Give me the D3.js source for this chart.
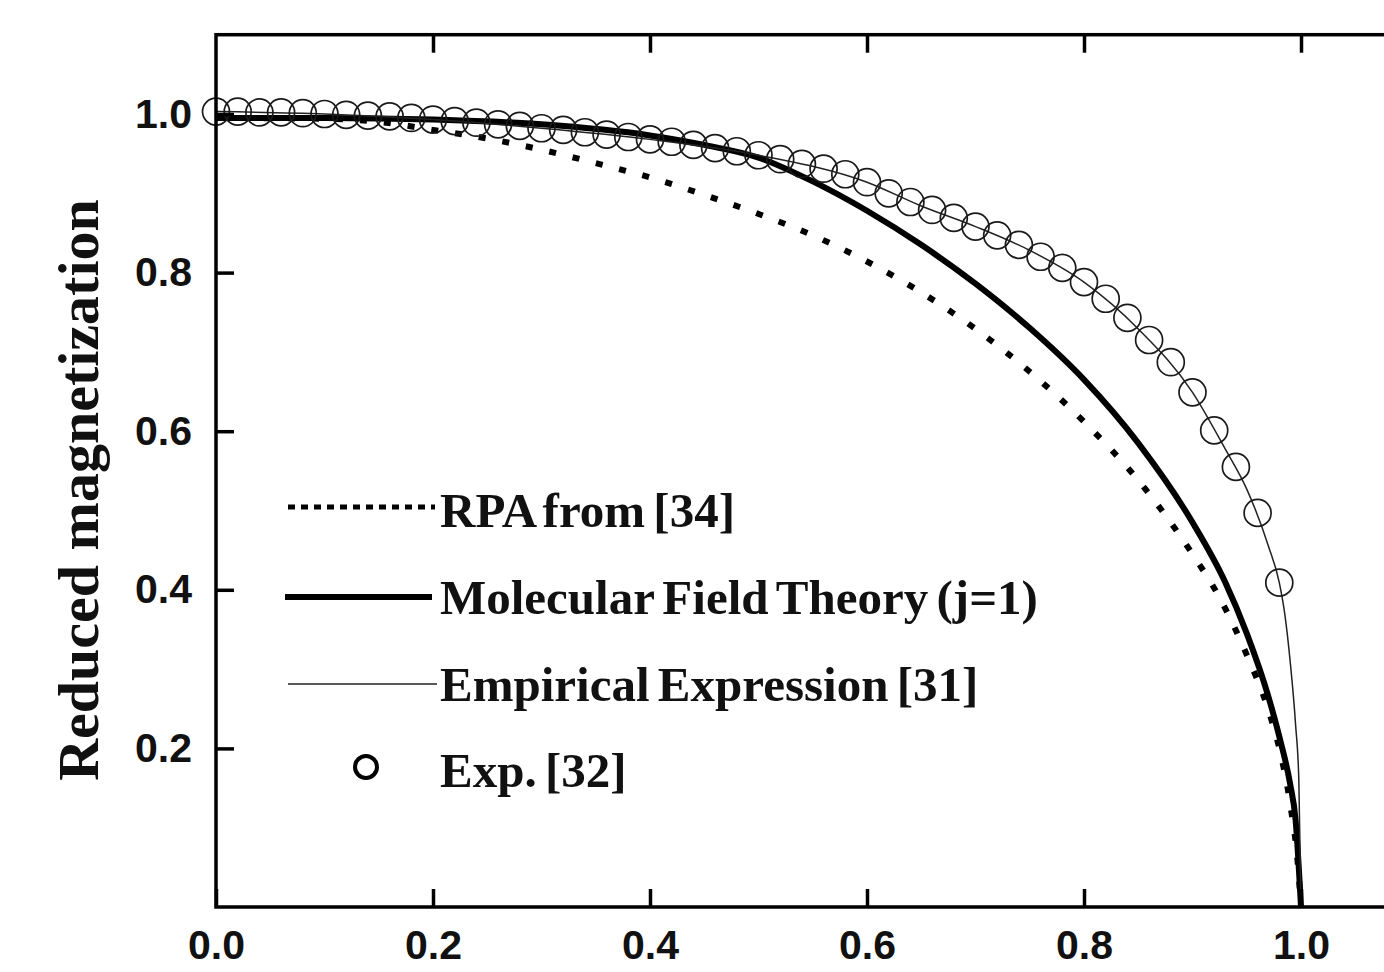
<!DOCTYPE html>
<html>
<head>
<meta charset="utf-8">
<script src="https://cdn.jsdelivr.net/npm/d3@7"></script>
<style>
  body { margin: 0; background: #fff; }
  .tick text { font-family: "Liberation Sans", Arial, sans-serif; font-weight: bold; font-size: 41px; fill: #111; }
  .tick line { stroke: #000; stroke-width: 3.5; }
  .domain { display: none; }
  .legend text { font-family: "Liberation Serif", "Times New Roman", serif; font-weight: bold; font-size: 49px; fill: #111; word-spacing: -4px; }
</style>
</head>
<body>
<div id="chart"></div>
<script>
var width = 1384,
    height = 972;

// reduced temperature grid of the experimental points
var tExp = [0.00, 0.02, 0.04, 0.06, 0.08, 0.10, 0.12, 0.14, 0.16, 0.18,
            0.20, 0.22, 0.24, 0.26, 0.28, 0.30, 0.32, 0.34, 0.36, 0.38,
            0.40, 0.42, 0.44, 0.46, 0.48, 0.50, 0.52, 0.54, 0.56, 0.58,
            0.60, 0.62, 0.64, 0.66, 0.68, 0.70, 0.72, 0.74, 0.76, 0.78,
            0.80, 0.82, 0.84, 0.86, 0.88, 0.90, 0.92, 0.94, 0.96, 0.98];
var mExp = [1.003, 1.003, 1.002, 1.002, 1.001, 1.000, 0.999, 0.998, 0.997, 0.995,
            0.993, 0.991, 0.989, 0.987, 0.985, 0.982, 0.980, 0.977, 0.974, 0.971,
            0.968, 0.965, 0.961, 0.957, 0.953, 0.948, 0.943, 0.937, 0.931, 0.924,
            0.914, 0.900, 0.889, 0.879, 0.869, 0.858, 0.847, 0.835, 0.820, 0.806,
            0.788, 0.767, 0.743, 0.715, 0.687, 0.649, 0.601, 0.555, 0.497, 0.409];

// empirical expression [31]
var tEmp = [0.00, 0.10, 0.20, 0.30, 0.40, 0.50, 0.60, 0.65, 0.70, 0.75,
            0.80, 0.85, 0.90, 0.93, 0.95, 0.97, 0.98, 0.985, 0.99, 0.995, 0.998, 1.00];
var mEmp = [1.003, 1.000, 0.993, 0.982, 0.968, 0.948, 0.914, 0.884, 0.858, 0.828,
            0.788, 0.729, 0.649, 0.578, 0.527, 0.455, 0.409, 0.37, 0.31, 0.23, 0.16, 0.0];

// molecular field theory (j=1)
var tMft = [0.00, 0.10, 0.20, 0.30, 0.40, 0.45, 0.50, 0.55, 0.60, 0.65,
            0.70, 0.75, 0.80, 0.85, 0.90, 0.93, 0.95, 0.97, 0.98, 0.99, 0.995, 1.00];
var mMft = [0.995, 0.995, 0.993, 0.987, 0.973, 0.961, 0.945, 0.915, 0.878, 0.835,
            0.786, 0.730, 0.665, 0.585, 0.485, 0.410, 0.345, 0.265, 0.215, 0.155, 0.110, 0.0];

// RPA from [34]
var tRpa = [0.00, 0.10, 0.15, 0.20, 0.25, 0.30, 0.35, 0.40, 0.45, 0.50,
            0.55, 0.60, 0.65, 0.70, 0.75, 0.80, 0.85, 0.90, 0.925, 0.95,
            0.97, 0.98, 0.99, 0.997, 1.00];
var mRpa = [0.995, 0.994, 0.990, 0.980, 0.969, 0.955, 0.938, 0.920, 0.898, 0.874,
            0.847, 0.814, 0.775, 0.729, 0.675, 0.612, 0.538, 0.445, 0.390, 0.318,
            0.248, 0.200, 0.130, 0.055, 0.0];

var xTicks = [0.0, 0.2, 0.4, 0.6, 0.8, 1.0];
var yTicks = [0.2, 0.4, 0.6, 0.8, 1.0];

var legendLabels = ["RPA from [34]", "Molecular Field Theory (j=1)", "Empirical Expression [31]", "Exp. [32]"];

var x = d3.scaleLinear().domain([0, 1.1]).range([216, 216 + 1.1 * 1085]);
var y = d3.scaleLinear().domain([0, 1.1]).range([907, 907 - 1.1 * 793]);

var svg = d3.select("#chart").append("svg")
    .attr("width", width)
    .attr("height", height);

var line = d3.line()
    .x(function(d) { return x(d[0]); })
    .y(function(d) { return y(d[1]); })
    .curve(d3.curveMonotoneX);

function pairs(t, m) { return t.map(function(v, i) { return [v, m[i]]; }); }

// curves
svg.append("path")
    .datum(pairs(tRpa, mRpa))
    .attr("d", line)
    .attr("fill", "none")
    .attr("stroke", "#000")
    .attr("stroke-width", 6)
    .attr("stroke-dasharray", "7,17");

svg.append("path")
    .datum(pairs(tMft, mMft))
    .attr("d", line)
    .attr("fill", "none")
    .attr("stroke", "#000")
    .attr("stroke-width", 6);

svg.append("path")
    .datum(pairs(tEmp, mEmp))
    .attr("d", line)
    .attr("fill", "none")
    .attr("stroke", "#222")
    .attr("stroke-width", 1.5);

svg.append("g").selectAll("circle")
    .data(pairs(tExp, mExp))
  .enter().append("circle")
    .attr("cx", function(d) { return x(d[0]); })
    .attr("cy", function(d) { return y(d[1]); })
    .attr("r", 13.5)
    .attr("fill", "none")
    .attr("stroke", "#1a1a1a")
    .attr("stroke-width", 1.7);

// frame and ticks (inward)
svg.append("g")
    .attr("transform", "translate(0," + y(0) + ")")
    .call(d3.axisBottom(x).tickValues(xTicks).tickSizeInner(-18).tickSizeOuter(0)
      .tickPadding(23).tickFormat(d3.format(".1f")));

svg.append("g")
    .attr("transform", "translate(0," + y(1.1) + ")")
    .call(d3.axisTop(x).tickValues(xTicks.slice(1)).tickSizeInner(-18).tickSizeOuter(0)
      .tickFormat(""));

svg.append("g")
    .attr("transform", "translate(" + x(0) + ",0)")
    .call(d3.axisLeft(y).tickValues(yTicks).tickSizeInner(-18).tickSizeOuter(0)
      .tickPadding(24).tickFormat(d3.format(".1f")));

svg.append("g")
    .attr("transform", "translate(" + x(1.1) + ",0)")
    .call(d3.axisRight(y).tickValues(yTicks).tickSizeInner(-18).tickSizeOuter(0)
      .tickFormat(""));

svg.append("rect")
    .attr("x", x(0))
    .attr("y", y(1.1))
    .attr("width", x(1.1) - x(0))
    .attr("height", y(0) - y(1.1))
    .attr("fill", "none")
    .attr("stroke", "#000")
    .attr("stroke-width", 3.5);

// axis title
svg.append("text")
    .attr("transform", "translate(98,490) rotate(-90)")
    .attr("text-anchor", "middle")
    .style("font-family", "'Liberation Serif', 'Times New Roman', serif")
    .style("font-weight", "bold")
    .style("font-size", "58px")
    .attr("fill", "#111")
    .text("Reduced magnetization");

// legend
var legend = svg.append("g").attr("class", "legend");
var rows = [510, 597, 684, 770];

legend.append("line")
    .attr("x1", 288).attr("x2", 435).attr("y1", rows[0] - 3).attr("y2", rows[0] - 3)
    .attr("stroke", "#000").attr("stroke-width", 5).attr("stroke-dasharray", "7,6");
legend.append("line")
    .attr("x1", 285).attr("x2", 432).attr("y1", rows[1]).attr("y2", rows[1])
    .attr("stroke", "#000").attr("stroke-width", 6);
legend.append("line")
    .attr("x1", 288).attr("x2", 437).attr("y1", rows[2]).attr("y2", rows[2])
    .attr("stroke", "#222").attr("stroke-width", 1.5);
legend.append("circle")
    .attr("cx", 366).attr("cy", rows[3] - 3).attr("r", 11)
    .attr("fill", "none").attr("stroke", "#000").attr("stroke-width", 4);

legend.selectAll("text")
    .data(legendLabels)
  .enter().append("text")
    .attr("x", 440)
    .attr("y", function(d, i) { return rows[i]; })
    .attr("dy", "0.35em")
    .text(function(d) { return d; });
</script>
</body>
</html>
